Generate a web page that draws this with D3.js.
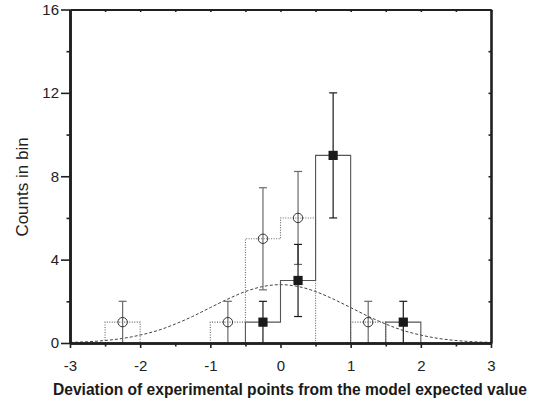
<!DOCTYPE html>
<html>
<head>
<meta charset="utf-8">
<script src="https://cdn.jsdelivr.net/npm/d3@7"></script>
<style>
  html, body { margin: 0; padding: 0; background: #fff; }
  svg { display: block; font-family: "Liberation Sans", Arial, Helvetica, sans-serif; }
</style>
</head>
<body>
<svg id="chart" width="539" height="403"></svg>
<script>
// ---------- data ----------
// Open-circle series (dotted histogram), bins of width 0.5 (left edges)
const circleBinStart = [-2.5, -1.0, -0.5, 0.0, 1.0];
const circleCounts   = [1, 1, 5, 6, 1];
const circleErrLo    = [0, 0, 2.55, 3.77, 0];
const circleErrHi    = [2, 2, 7.45, 8.23, 2];

// Filled-square series (solid histogram)
const squareBinStart = [-0.5, 0.0, 0.5, 1.5];
const squareCounts   = [1, 3, 9, 1];
const squareErrLo    = [0, 1.27, 6.0, 0];
const squareErrHi    = [2, 4.73, 12.0, 2];

// Dashed curve
const curveX = [-3, -2.75, -2.5, -2.25, -2, -1.75, -1.5, -1.25, -1, -0.75, -0.5, -0.25, 0,
                0.25, 0.5, 0.75, 1, 1.25, 1.5, 1.75, 2, 2.25, 2.5, 2.75, 3];
const curveY = [0.03, 0.06, 0.12, 0.22, 0.38, 0.6, 0.91, 1.28, 1.7, 2.11, 2.47, 2.71, 2.8,
                2.71, 2.47, 2.11, 1.7, 1.28, 0.91, 0.6, 0.38, 0.22, 0.12, 0.06, 0.03];

const binWidth = 0.5;
const xMajorTicks = [-3, -2, -1, 0, 1, 2, 3];
const xMinorTicks = [-2.5, -1.5, -0.5, 0.5, 1.5, 2.5];
const yMajorTicks = [0, 4, 8, 12, 16];
const yMinorTicks = [2, 6, 10, 14];
const xLabel = "Deviation of experimental points from the model expected value";
const yLabel = "Counts in bin";

// ---------- drawing ----------
const svg = d3.select("#chart");
const x = d3.scaleLinear().domain([-3, 3]).range([70, 491]);
const y = d3.scaleLinear().domain([0, 16]).range([343, 9.5]);
const axisColor = "#231f20";

function stepPath(starts, counts) {
  let segs = [];
  let i = 0;
  while (i < starts.length) {
    let pts = [[starts[i], 0]];
    let j = i;
    while (true) {
      pts.push([starts[j], counts[j]]);
      pts.push([starts[j] + binWidth, counts[j]]);
      if (j + 1 < starts.length && Math.abs(starts[j + 1] - (starts[j] + binWidth)) < 1e-9) { j++; }
      else break;
    }
    pts.push([starts[j] + binWidth, 0]);
    segs.push(pts);
    i = j + 1;
  }
  return segs;
}
const line = d3.line().x(d => x(d[0])).y(d => y(d[1]));

const plot = svg.append("g");

// dashed curve
plot.append("path")
  .attr("d", d3.line().x((d, i) => x(curveX[i])).y(d => y(d)).curve(d3.curveMonotoneX)(curveY))
  .attr("fill", "none").attr("stroke", "#444").attr("stroke-width", 1)
  .attr("stroke-dasharray", "3,2");

// dotted histogram
stepPath(circleBinStart, circleCounts).forEach(pts => {
  plot.append("path").attr("d", line(pts)).attr("fill", "none")
    .attr("stroke", "#666").attr("stroke-width", 1.1).attr("stroke-dasharray", "1,1.5");
});
// solid histogram
stepPath(squareBinStart, squareCounts).forEach(pts => {
  plot.append("path").attr("d", line(pts)).attr("fill", "none")
    .attr("stroke", "#555").attr("stroke-width", 1.1);
});

// error bars
function errBars(starts, lo, hi, color) {
  const g = plot.append("g").attr("stroke", color).attr("stroke-width", 1.2);
  starts.forEach((s, i) => {
    const cx = x(s + binWidth / 2);
    g.append("line").attr("x1", cx).attr("x2", cx).attr("y1", y(lo[i])).attr("y2", y(hi[i]));
    [lo[i], hi[i]].forEach(v => {
      if (v > 0) g.append("line").attr("x1", cx - 4).attr("x2", cx + 4).attr("y1", y(v)).attr("y2", y(v));
    });
  });
}
errBars(circleBinStart, circleErrLo, circleErrHi, "#6a6a6a");
errBars(squareBinStart, squareErrLo, squareErrHi, "#1a1a1a");

// markers
plot.selectAll("circle.m").data(circleCounts).enter().append("circle")
  .attr("cx", (d, i) => x(circleBinStart[i] + binWidth / 2))
  .attr("cy", d => y(d)).attr("r", 4.7)
  .attr("fill", "none").attr("stroke", "#333").attr("stroke-width", 1);
plot.selectAll("rect.m").data(squareCounts).enter().append("rect")
  .attr("x", (d, i) => x(squareBinStart[i] + binWidth / 2) - 4.6)
  .attr("y", d => y(d) - 4.6).attr("width", 9.2).attr("height", 9.2)
  .attr("fill", "#1a1a1a");

// axes
function styleAxis(g, width) {
  g.select(".domain").attr("stroke", axisColor).attr("stroke-width", width);
  g.selectAll(".tick line").attr("stroke", axisColor).attr("stroke-width", 1.6);
  g.selectAll(".tick text").attr("fill", "#222").attr("font-size", "15px")
    .attr("font-family", "'Liberation Sans', Arial, sans-serif");
}
// bottom
const bMinor = svg.append("g").attr("transform", `translate(0,${y(0)})`)
  .call(d3.axisBottom(x).tickValues(xMinorTicks).tickSize(3.5).tickSizeOuter(0).tickFormat(""));
styleAxis(bMinor, 2.6);
const bMajor = svg.append("g").attr("transform", `translate(0,${y(0)})`)
  .call(d3.axisBottom(x).tickValues(xMajorTicks).tickSize(5).tickSizeOuter(0).tickPadding(12).tickFormat(d3.format("d")));
styleAxis(bMajor, 2.6);
bMajor.selectAll(".tick text").text(d => d < 0 ? "-" + Math.abs(d) : d);
// left
const lMinor = svg.append("g").attr("transform", `translate(${x(-3)},0)`)
  .call(d3.axisLeft(y).tickValues(yMinorTicks).tickSize(3.5).tickSizeOuter(0).tickFormat(""));
styleAxis(lMinor, 2.6);
const lMajor = svg.append("g").attr("transform", `translate(${x(-3)},0)`)
  .call(d3.axisLeft(y).tickValues(yMajorTicks).tickSize(9).tickSizeOuter(0).tickPadding(2).tickFormat(d3.format("d")));
styleAxis(lMajor, 2.6);
// top (ticks inward)
const tAx = svg.append("g").attr("transform", `translate(0,${y(16)})`)
  .call(d3.axisBottom(x).tickValues(xMinorTicks.concat(xMajorTicks)).tickSize(2.5).tickSizeOuter(0).tickFormat(""));
styleAxis(tAx, 2.2);
// right (ticks inward)
const rAx = svg.append("g").attr("transform", `translate(${x(3)},0)`)
  .call(d3.axisLeft(y).tickValues(yMinorTicks.concat(yMajorTicks)).tickSize(2.5).tickSizeOuter(0).tickFormat(""));
styleAxis(rAx, 2.6);

// axis titles
svg.append("text").attr("x", 290).attr("y", 395).attr("text-anchor", "middle")
  .attr("font-size", "15.6px").attr("font-weight", "bold").attr("fill", "#1a1a1a")
  .text(xLabel);
svg.append("text").attr("transform", "translate(28,187) rotate(-90)").attr("text-anchor", "middle")
  .attr("font-size", "17px").attr("fill", "#222").text(yLabel);
</script>
</body>
</html>
